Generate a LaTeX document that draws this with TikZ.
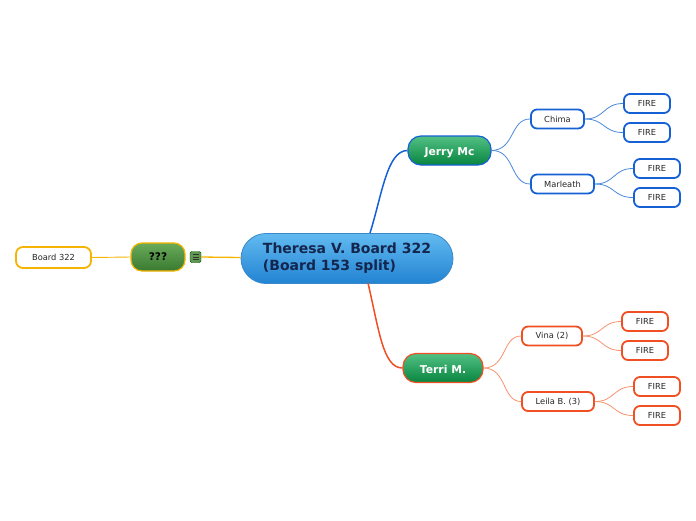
\documentclass[tikz,border=0pt]{standalone}
\usepackage{fontspec}
\setmainfont{DejaVu Sans}
\definecolor{bluebd}{HTML}{1560D4}
\definecolor{blueln}{HTML}{4A88DC}
\definecolor{orbd}{HTML}{F04E23}
\definecolor{orln}{HTML}{F6926C}
\definecolor{yel}{HTML}{F5B400}
\definecolor{navy}{HTML}{14264E}
\definecolor{gtop}{HTML}{52C084}
\definecolor{gbot}{HTML}{08853F}
\definecolor{qtop}{HTML}{6AAA5A}
\definecolor{qbot}{HTML}{3A7A30}
\definecolor{ctop}{HTML}{62BAF0}
\definecolor{cbot}{HTML}{2283D2}
\definecolor{cbd}{HTML}{3A88CC}
\begin{document}
\begin{tikzpicture}[x=1pt,y=-1pt,
  leaf/.style={draw, line width=1.8pt, fill=white, rounded corners=6pt, minimum height=19pt, inner sep=0pt, font=\fontsize{8.3}{9}\selectfont, text=black!85},
  bleaf/.style={leaf, draw=bluebd},
  oleaf/.style={leaf, draw=orbd},
  greennode/.style={rounded corners=13pt, minimum height=29pt, inner sep=0pt, top color=gtop, bottom color=gbot, line width=1.2pt, font=\bfseries\fontsize{10.8}{12}\selectfont, text=white, text depth=0pt, text height=10pt},
  bline/.style={blueln, line width=0.8pt},
  oline/.style={orln, line width=0.8pt},
]
\useasboundingbox (0,0) rectangle (696,520);
% central
\node[draw=cbd, line width=0.8pt, rounded corners=25pt, minimum width=212pt, minimum height=50pt, top color=ctop, bottom color=cbot, inner sep=0pt, align=left, text=navy, font=\bfseries\fontsize{14}{17}\selectfont] (c) at (347,258.5) {Theresa V. Board 322\\(Board 153 split)};
% left branch
\node[rounded corners=11pt, minimum width=54pt, minimum height=28pt, inner sep=0pt, draw=yel, line width=1.2pt, top color=qtop, bottom color=qbot, font=\bfseries\fontsize{10.5}{12}\selectfont, text=black] (q) at (158,257) {???};
\node[draw=green!30!black, fill=qtop!90!black, rounded corners=1.5pt, minimum width=11pt, minimum height=11pt, inner sep=0pt, line width=0.4pt] (ic) at (195.5,257) {};
\draw[black!80, line width=0.7pt] ([xshift=-3pt,yshift=-2.5pt]ic.center) -- ([xshift=3pt,yshift=-2.5pt]ic.center)
  ([xshift=-3pt]ic.center) -- ([xshift=3pt]ic.center)
  ([xshift=-3pt,yshift=2.5pt]ic.center) -- ([xshift=3pt,yshift=2.5pt]ic.center);
\node[leaf, draw=yel, minimum width=75pt, minimum height=21pt, rounded corners=7pt] (b322) at (53.5,257.5) {Board 322};
\coordinate (cw) at (241,257.5);
\draw[yel, line width=1.3pt] (ic.east) -- (cw);
\draw[yel, line width=0.9pt] (b322.east) -- (q.west);
% Jerry
\node[greennode, draw=bluebd, minimum width=83pt] (j) at (449.5,150.5) {Jerry Mc};
\node[greennode, draw=orbd, minimum width=80pt] (t) at (443,368) {Terri M.};
\coordinate (cj) at (370,233);
\coordinate (ct) at (368,283);
\draw[bluebd, line width=1.5pt] (cj) .. controls (382,195) and (387,150.5) .. (j.west);
\draw[orbd, line width=1.5pt] (ct) .. controls (379,330) and (383,368) .. (t.west);
% blue sub
\node[bleaf, minimum width=53pt] (chima) at (557.5,119) {Chima};
\node[bleaf, minimum width=63pt] (marl) at (562.5,184) {Marleath};
\node[bleaf, minimum width=46pt] (f1) at (647,103.5) {FIRE};
\node[bleaf, minimum width=46pt] (f2) at (647,132.5) {FIRE};
\node[bleaf, minimum width=46pt] (f3) at (657,168.5) {FIRE};
\node[bleaf, minimum width=46pt] (f4) at (657,197.5) {FIRE};
\draw[bline] (j.east) .. controls (515,150) and (510,119) .. (chima.west);
\draw[bline] (j.east) .. controls (515,150) and (510,184) .. (marl.west);
\draw[bline] (chima.east) .. controls (605,119) and (603,103.5) .. (f1.west);
\draw[bline] (chima.east) .. controls (605,119) and (603,132.5) .. (f2.west);
\draw[bline] (marl.east) .. controls (615,184) and (613,168.5) .. (f3.west);
\draw[bline] (marl.east) .. controls (615,184) and (613,197.5) .. (f4.west);
% orange sub
\node[oleaf, minimum width=60pt] (vina) at (552,336) {Vina (2)};
\node[oleaf, minimum width=72pt] (leila) at (558,401.5) {Leila B. (3)};
\node[oleaf, minimum width=46pt] (g1) at (645,321.5) {FIRE};
\node[oleaf, minimum width=46pt] (g2) at (645,350.5) {FIRE};
\node[oleaf, minimum width=46pt] (g3) at (657,386.5) {FIRE};
\node[oleaf, minimum width=46pt] (g4) at (657,415.5) {FIRE};
\draw[oline] (t.east) .. controls (507,368) and (502,336) .. (vina.west);
\draw[oline] (t.east) .. controls (507,368) and (502,401.5) .. (leila.west);
\draw[oline] (vina.east) .. controls (603,336) and (601,321.5) .. (g1.west);
\draw[oline] (vina.east) .. controls (603,336) and (601,350.5) .. (g2.west);
\draw[oline] (leila.east) .. controls (615,401.5) and (613,386.5) .. (g3.west);
\draw[oline] (leila.east) .. controls (615,401.5) and (613,415.5) .. (g4.west);
\end{tikzpicture}
\end{document}
